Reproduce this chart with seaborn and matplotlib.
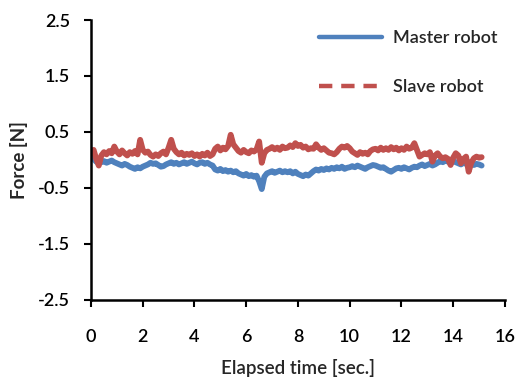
import numpy as np
import pandas as pd
import matplotlib
matplotlib.use("Agg")
import matplotlib.pyplot as plt
from matplotlib.lines import Line2D
import seaborn as sns

# force readings every 0.1 s
time_sec = np.round(np.arange(152) * 0.1, 1)

master_force = [
    0.05, 0.02, -0.03, -0.05,
    -0.04, -0.02, -0.05, -0.03, -0.01, -0.04,
    -0.06, -0.08, -0.10, -0.07, -0.09, -0.12,
    -0.14, -0.16, -0.13, -0.15, -0.12,
    -0.10, -0.08, -0.05, -0.07, -0.06, -0.09,
    -0.12, -0.11, -0.08, -0.06, -0.04, -0.07,
    -0.05, -0.08, -0.06, -0.04, -0.07,
    -0.05, -0.03, -0.06, -0.08, -0.05, -0.04, -0.07, -0.05, -0.08, -0.10,
    -0.17, -0.19, -0.16, -0.20, -0.18, -0.21, -0.19, -0.22, -0.20,
    -0.24, -0.26, -0.28, -0.25, -0.29, -0.27, -0.30, -0.28,
    -0.38, -0.52, -0.30, -0.24,
    -0.22, -0.20, -0.23, -0.21, -0.19, -0.22, -0.20,
    -0.22, -0.20, -0.24, -0.21, -0.25,
    -0.27, -0.29, -0.26, -0.28, -0.24,
    -0.20, -0.17, -0.19, -0.16, -0.18, -0.15, -0.17,
    -0.14, -0.16, -0.13, -0.15, -0.12, -0.16, -0.14, -0.13,
    -0.11, -0.13, -0.10, -0.12, -0.14, -0.16, -0.13, -0.11, -0.09,
    -0.10, -0.12, -0.14, -0.13,
    -0.16, -0.19, -0.21, -0.18, -0.15,
    -0.14, -0.16, -0.13, -0.15, -0.17, -0.14, -0.12, -0.13,
    -0.10, -0.08, -0.11, -0.09, -0.07, -0.10, -0.08,
    -0.05, -0.02, -0.04, -0.01, -0.03, -0.05, -0.02, -0.04,
    -0.06, -0.08, -0.05, -0.07, -0.04, -0.06, -0.09, -0.07, -0.08, -0.10,
]

slave_force = [
    0.12, 0.18, 0.02, -0.10,
    0.08, 0.14, 0.10, 0.16, 0.12, 0.24,
    0.15, 0.10, 0.17, 0.12, 0.08, 0.14,
    0.11, 0.16, 0.10, 0.36, 0.18,
    0.13, 0.15, 0.09, 0.06, 0.10, 0.07,
    0.12, 0.15, 0.10, 0.22, 0.36, 0.20,
    0.14, 0.10, 0.13, 0.08, 0.11,
    0.09, 0.12, 0.07, 0.10, 0.06, 0.11, 0.08, 0.13, 0.07, 0.10,
    0.20, 0.24, 0.17, 0.22, 0.19, 0.25, 0.45, 0.28, 0.22,
    0.16, 0.13, 0.18, 0.14, 0.12, 0.17, 0.15, 0.19,
    0.33, -0.05, 0.12, 0.18,
    0.20, 0.23, 0.19, 0.22, 0.18, 0.24, 0.21,
    0.22, 0.26, 0.23, 0.30, 0.25,
    0.27, 0.22, 0.24, 0.19, 0.21,
    0.20, 0.28, 0.22, 0.18, 0.21, 0.17, 0.13,
    0.12, 0.10, 0.14, 0.20, 0.24, 0.22, 0.25, 0.21,
    0.15, 0.12, 0.09, 0.14, 0.11, 0.13, 0.10, 0.16, 0.19,
    0.20, 0.17, 0.22, 0.18,
    0.21, 0.18, 0.23, 0.19, 0.22,
    0.17, 0.21, 0.18, 0.24, 0.20, 0.22, 0.30, 0.18,
    0.06, 0.09, 0.12, 0.10, 0.14, -0.03, 0.08,
    0.12, 0.06, 0.03, 0.05, 0.02, -0.09, 0.04, 0.12,
    0.08, -0.06, 0.02, 0.06, -0.21, -0.05, 0.03, 0.06, 0.04, 0.05,
]

series_names = ["Master robot", "Slave robot"]
series_colors = ["#4F81BD", "#C0504D"]
y_ticks = [-2.5, -1.5, -0.5, 0.5, 1.5, 2.5]
x_ticks = list(range(0, 17, 2))

df = pd.concat([
    pd.DataFrame({"time": time_sec, "force": master_force, "robot": series_names[0]}),
    pd.DataFrame({"time": time_sec, "force": slave_force, "robot": series_names[1]}),
])

sns.set_style("white")
plt.rcParams["font.family"] = ["Lato", "DejaVu Sans"]

fig = plt.figure(figsize=(5.18, 3.85), dpi=100)
ax = fig.add_axes([0.1757, 0.221, 0.799, 0.727])

sns.lineplot(data=df, x="time", y="force", hue="robot", hue_order=series_names,
             palette=series_colors, linewidth=4.2, legend=False, ax=ax)

ax.set_xlim(0, 16)
ax.set_ylim(-2.5, 2.5)
ax.set_xticks(x_ticks)
ax.set_yticks(y_ticks)
ax.set_yticklabels([f"{v:.1f}" for v in y_ticks])
ax.tick_params(direction="out", length=5, width=1.5, labelsize=13, colors="black",
               left=True, bottom=True)
ax.tick_params(axis="x", pad=16)
ax.tick_params(axis="y", pad=10)
for lab in ax.get_xticklabels() + ax.get_yticklabels():
    lab.set_fontweight("semibold")
for s in ["top", "right"]:
    ax.spines[s].set_visible(False)
for s in ["left", "bottom"]:
    ax.spines[s].set_color("black")
    ax.spines[s].set_linewidth(1.8)

ax.set_xlabel("Elapsed time [sec.]", fontsize=13.5, fontweight="semibold", labelpad=10)
ax.set_ylabel("Force [N]", fontsize=13.5, fontweight="bold", labelpad=7)

handles = [
    Line2D([], [], color=series_colors[0], lw=3.2),
    Line2D([], [], color=series_colors[1], lw=3.2, linestyle=(0, (3, 2))),
]
leg = ax.legend(handles, series_names, loc="upper right", frameon=False, fontsize=13,
                handlelength=3.5, handletextpad=0.6, labelspacing=1.85,
                borderaxespad=0.0, bbox_to_anchor=(1.0, 0.99))
for t in leg.get_texts():
    t.set_fontweight("semibold")

fig.savefig("out.png", dpi=100)
